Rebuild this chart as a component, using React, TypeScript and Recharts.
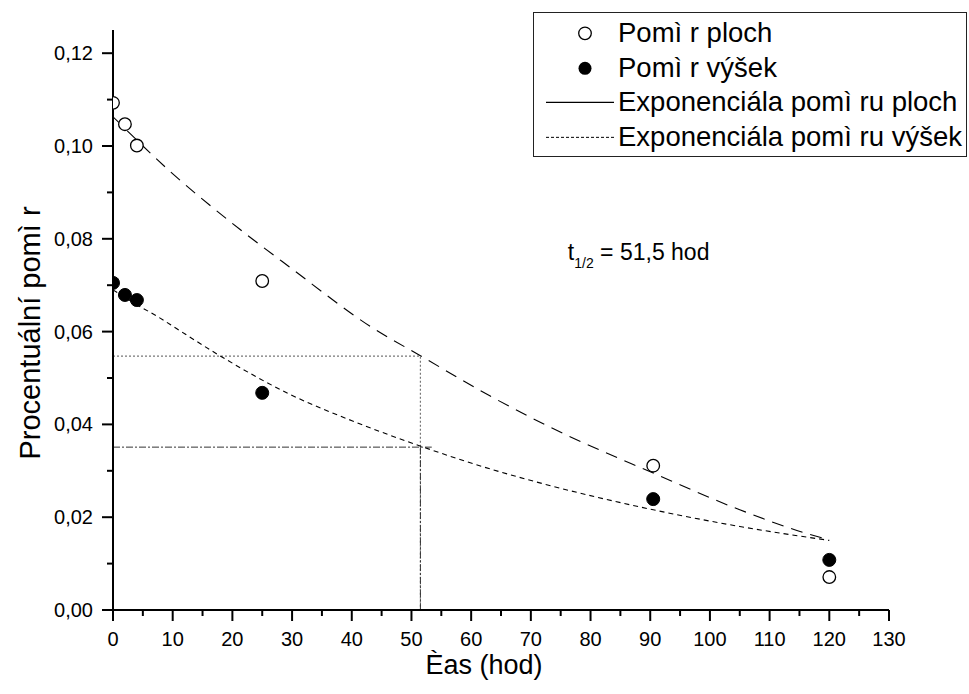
import React from 'react';
import { ComposedChart, XAxis, YAxis, Scatter, Line } from 'recharts';

// ---- data ----
const hours = [0, 2, 4, 25, 90.5, 120];
const plochValues = [0.1093, 0.1047, 0.1001, 0.0709, 0.0311, 0.0071];
const vysekValues = [0.0705, 0.0679, 0.0668, 0.0468, 0.0239, 0.0108];

const plochFitHours = [0, 9.5, 21.3, 29.7, 43.6, 51.5, 63.2, 72.6, 90.5, 105, 116.2, 120];
const plochFitValues = [0.1063, 0.0946, 0.082, 0.0738, 0.0607, 0.0548, 0.0461, 0.0398, 0.0295, 0.0216, 0.0165, 0.0151];

const vysekFitHours = [0, 4, 7.9, 10.7, 17.9, 29.6, 40.8, 52, 63.2, 71.5, 90.5, 105, 120];
const vysekFitValues = [0.069, 0.0658, 0.0629, 0.0606, 0.0548, 0.0465, 0.0404, 0.0351, 0.0304, 0.0274, 0.0216, 0.018, 0.015];

const halfLifeHour = 51.5;
const plochHalfValue = 0.0547;
const vysekHalfValue = 0.0351;
const vysekGuideEndHour = 53.4;

const xTicks = [0, 5, 10, 15, 20, 25, 30, 35, 40, 45, 50, 55, 60, 65, 70, 75, 80, 85, 90, 95, 100, 105, 110, 115, 120, 125, 130];
const yTicks = [0, 0.01, 0.02, 0.03, 0.04, 0.05, 0.06, 0.07, 0.08, 0.09, 0.1, 0.11, 0.12];

const legendLabels = ['Pomì r ploch', 'Pomì r výšek', 'Exponenciála pomì ru ploch', 'Exponenciála pomì ru výšek'];
const xTitle = 'Èas (hod)';
const yTitle = 'Procentuální pomì r';

// ---- derived tables ----
const plochPoints = hours.map((h, i) => ({ x: h, y: plochValues[i] }));
const vysekPoints = hours.map((h, i) => ({ x: h, y: vysekValues[i] }));
const plochFit = plochFitHours.map((h, i) => ({ x: h, y: plochFitValues[i] }));
const vysekFit = vysekFitHours.map((h, i) => ({ x: h, y: vysekFitValues[i] }));
const plochGuide = [
  { x: 0, y: plochHalfValue },
  { x: halfLifeHour, y: plochHalfValue },
  { x: halfLifeHour, y: 0 },
];
const vysekGuideH = [
  { x: 0, y: vysekHalfValue },
  { x: vysekGuideEndHour, y: vysekHalfValue },
];
const vysekGuideV = [
  { x: halfLifeHour, y: vysekHalfValue },
  { x: halfLifeHour, y: 0 },
];

const FONT = '"Liberation Sans", Arial, sans-serif';
const TICK_SIZE = 10;
const TICK_MARGIN = 6;

const XTick = (props: any) => {
  const { x, y, payload } = props;
  const v = payload.value;
  const major = Math.round(v) % 10 === 0;
  const axisY = y - TICK_SIZE - TICK_MARGIN;
  return (
    <g>
      <line x1={x} x2={x} y1={axisY} y2={axisY + (major ? 11 : 6)} stroke="#000" strokeWidth={2} />
      {major && (
        <text x={x} y={axisY + 36} textAnchor="middle" fontFamily={FONT} fontSize={20} fill="#000">
          {v}
        </text>
      )}
    </g>
  );
};

const YTick = (props: any) => {
  const { x, y, payload } = props;
  const v = payload.value;
  const major = Math.round(v * 100) % 2 === 0;
  const axisX = x + TICK_SIZE + TICK_MARGIN;
  return (
    <g>
      <line x1={axisX} x2={axisX - (major ? 11 : 6)} y1={y} y2={y} stroke="#000" strokeWidth={2} />
      {major && (
        <text x={axisX - 20} y={y + 7} textAnchor="end" fontFamily={FONT} fontSize={20} fill="#000">
          {v.toFixed(2).replace('.', ',')}
        </text>
      )}
    </g>
  );
};

const OpenCircle = (p: any) => (
  <circle cx={p.cx} cy={p.cy} r={6.3} fill="#fff" stroke="#000" strokeWidth={1.3} />
);
const FilledCircle = (p: any) => <circle cx={p.cx} cy={p.cy} r={6.5} fill="#000" stroke="#000" />;

const YTitle = (p: any) => {
  const vb = p.viewBox;
  const cx = vb.x + 40;
  const cy = vb.y + vb.height / 2 + 13;
  return (
    <text x={cx} y={cy} transform={`rotate(-90, ${cx}, ${cy})`} textAnchor="middle" fontFamily={FONT} fontSize={29} fill="#000">
      {yTitle}
    </text>
  );
};

const XTitle = (p: any) => {
  const vb = p.viewBox;
  const cx = vb.x + vb.width / 2 - 17;
  const cy = vb.y + 64;
  return (
    <text x={cx} y={cy} textAnchor="middle" fontFamily={FONT} fontSize={27} fill="#000">
      {xTitle}
    </text>
  );
};

const Annotation = (p: any) => {
  const vb = p.viewBox;
  return (
    <text x={vb.x} y={vb.y} fontFamily={FONT} fontSize={23} fill="#000">
      t
      <tspan fontSize={14} dy={8}>1/2</tspan>
      <tspan dy={-8}> = 51,5 hod</tspan>
    </text>
  );
};

const annotationAt = [{ x: 76.2, y: 0.0755 }];

const LegendBox = () => {
  const rowH = 34.7;
  const symbols = [
    <circle cx={51} cy={rowH / 2} r={6.3} fill="#fff" stroke="#000" strokeWidth={1.3} />,
    <circle cx={51} cy={rowH / 2} r={6.5} fill="#000" />,
    <line x1={12} x2={80} y1={rowH / 2} y2={rowH / 2} stroke="#000" strokeWidth={1.2} />,
    <line x1={12} x2={80} y1={rowH / 2} y2={rowH / 2} stroke="#000" strokeWidth={1} strokeDasharray="3 2" />,
  ];
  return (
    <div
      style={{
        position: 'absolute',
        left: 533,
        top: 12,
        width: 434,
        height: 145,
        border: '1.5px solid #222',
        boxSizing: 'border-box',
        background: '#fff',
        paddingTop: 3,
        fontFamily: FONT,
        fontSize: 27.5,
        color: '#000',
      }}
    >
      {legendLabels.map((lab, i) => (
        <div key={i} style={{ display: 'flex', alignItems: 'center', height: rowH, whiteSpace: 'nowrap' }}>
          <svg width={84} height={rowH} style={{ flex: 'none' }}>
            {symbols[i]}
          </svg>
          <span style={{ lineHeight: `${rowH}px` }}>{lab}</span>
        </div>
      ))}
    </div>
  );
};

export default function App() {
  return (
    <div style={{ position: 'absolute', left: 0, top: 0, width: 969, height: 694, background: '#fff' }}>
      <ComposedChart width={969} height={694} margin={{ top: 30, right: 80, bottom: 0, left: 0 }}>
        <XAxis
          type="number"
          dataKey="x"
          domain={[0, 130]}
          ticks={xTicks}
          interval={0}
          allowDataOverflow
          tickLine={false}
          tickSize={TICK_SIZE}
          tickMargin={TICK_MARGIN}
          tick={<XTick />}
          axisLine={{ stroke: '#000', strokeWidth: 2 }}
          height={84}
          label={{ content: <XTitle /> }}
        />
        <YAxis
          type="number"
          dataKey="y"
          domain={[0, 0.125]}
          ticks={yTicks}
          interval={0}
          allowDataOverflow
          tickLine={false}
          tickSize={TICK_SIZE}
          tickMargin={TICK_MARGIN}
          tick={<YTick />}
          axisLine={{ stroke: '#000', strokeWidth: 2 }}
          width={113}
          label={{ content: <YTitle /> }}
        />
        <Line data={plochGuide} dataKey="y" type="linear" stroke="#777" strokeWidth={1.2} strokeDasharray="2 2" dot={false} isAnimationActive={false} />
        <Line data={vysekGuideH} dataKey="y" type="linear" stroke="#333" strokeWidth={1} strokeDasharray="7 2 2 2" dot={false} isAnimationActive={false} />
        <Line data={vysekGuideV} dataKey="y" type="linear" stroke="#333" strokeWidth={1} strokeDasharray="7 2 2 2" dot={false} isAnimationActive={false} />
        <Line data={plochFit} dataKey="y" type="monotone" stroke="#000" strokeWidth={1.1} strokeDasharray="12 8" dot={false} isAnimationActive={false} />
        <Line data={vysekFit} dataKey="y" type="monotone" stroke="#000" strokeWidth={1.1} strokeDasharray="5 4" dot={false} isAnimationActive={false} />
        <Scatter data={plochPoints} dataKey="y" shape={<OpenCircle />} isAnimationActive={false} />
        <Scatter data={vysekPoints} dataKey="y" shape={<FilledCircle />} isAnimationActive={false} />
        <Scatter data={annotationAt} dataKey="y" shape={(p: any) => <Annotation viewBox={{ x: p.cx, y: p.cy }} />} isAnimationActive={false} />
      </ComposedChart>
      <LegendBox />
    </div>
  );
}
